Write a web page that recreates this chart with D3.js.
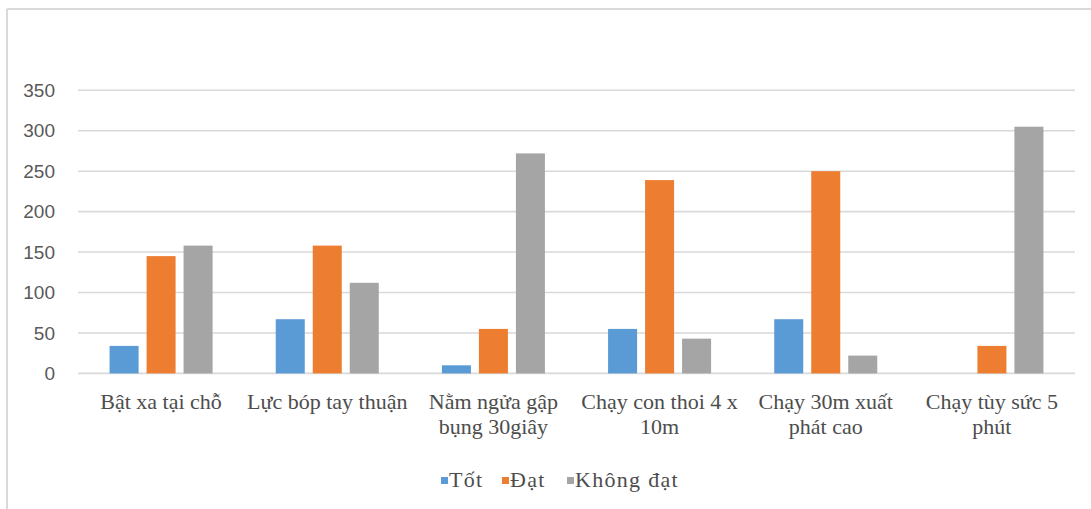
<!DOCTYPE html>
<html>
<head>
<meta charset="utf-8">
<script src="https://cdn.jsdelivr.net/npm/d3@7"></script>
<style>
  html, body { margin: 0; padding: 0; background: #fff; }
  svg { display: block; }
</style>
</head>
<body>
<svg id="chart" width="1091" height="509"></svg>
<script>
// Fitness test results per item
const categories = [
  ["Bật xa tại chỗ"],
  ["Lực bóp tay thuận"],
  ["Nằm ngửa gập", "bụng 30giây"],
  ["Chạy con thoi 4 x", "10m"],
  ["Chạy 30m xuất", "phát cao"],
  ["Chạy tùy sức 5", "phút"]
];
const seriesNames = ["Tốt", "Đạt", "Không đạt"];
const tot      = [34, 67, 10, 55, 67, 0];
const dat      = [145, 158, 55, 239, 250, 34];
const khongDat = [158, 112, 272, 43, 22, 305];
const yTicks = [0, 50, 100, 150, 200, 250, 300, 350];
const colors = ["#5b9bd5", "#ed7d31", "#a5a5a5"];

const seriesValues = [tot, dat, khongDat];
const catKeys = categories.map(c => c.join(" "));

const svg = d3.select("#chart");

// frame lines
svg.append("line").attr("x1", 7).attr("x2", 1091).attr("y1", 9).attr("y2", 9)
  .attr("stroke", "#d9d9d9").attr("stroke-width", 2);
svg.append("line").attr("x1", 7).attr("x2", 7).attr("y1", 9).attr("y2", 509)
  .attr("stroke", "#d9d9d9").attr("stroke-width", 2);

const plotLeft = 78, plotRight = 1075, plotTop = 90.3, plotBottom = 373.4;

const y = d3.scaleLinear().domain([0, 350]).range([plotBottom, plotTop]);
const x0 = d3.scaleBand().domain(catKeys).range([plotLeft, plotRight])
  .paddingInner(0.38).paddingOuter(0.19);
const x1 = d3.scaleBand().domain(seriesNames).range([0, x0.bandwidth()])
  .paddingInner(0.216);

// gridlines
svg.append("g").selectAll("line").data(yTicks).join("line")
  .attr("x1", plotLeft).attr("x2", plotRight)
  .attr("y1", d => y(d)).attr("y2", d => y(d))
  .attr("stroke", "#d9d9d9").attr("stroke-width", 1.6);

// y axis labels
const yAxis = d3.axisLeft(y).tickValues(yTicks).tickSize(0).tickPadding(0);
const yg = svg.append("g").attr("transform", `translate(55,0)`).call(yAxis);
yg.select(".domain").remove();
yg.selectAll("text")
  .attr("font-family", "'Liberation Sans', Arial, sans-serif")
  .attr("font-size", 19).attr("fill", "#595959");

// bars
const groups = svg.append("g").selectAll("g").data(catKeys).join("g")
  .attr("transform", d => `translate(${x0(d)},0)`);
groups.selectAll("rect")
  .data((d, i) => seriesNames.map((s, j) => ({ s, v: seriesValues[j][i], c: colors[j] })))
  .join("rect")
  .attr("x", d => x1(d.s))
  .attr("width", x1.bandwidth())
  .attr("y", d => y(d.v))
  .attr("height", d => y(0) - y(d.v))
  .attr("fill", d => d.c);

// category labels
const labelFont = "'Liberation Serif', 'Times New Roman', serif";
const cl = svg.append("g").selectAll("text").data(categories).join("text")
  .attr("x", (d, i) => x0(catKeys[i]) + x0.bandwidth() / 2)
  .attr("y", 409)
  .attr("text-anchor", "middle")
  .attr("font-family", labelFont).attr("font-size", 22).attr("fill", "#4d4d4d");
cl.selectAll("tspan").data(d => d).join("tspan")
  .attr("x", function() { return d3.select(this.parentNode).attr("x"); })
  .attr("dy", (d, i) => i === 0 ? 0 : 25)
  .text(d => d);

// legend
const legendX = [441, 502, 567];
const lg = svg.append("g").selectAll("g").data(seriesNames).join("g")
  .attr("transform", (d, i) => `translate(${legendX[i]},0)`);
lg.append("rect").attr("x", 0).attr("y", 477).attr("width", 7).attr("height", 7)
  .attr("fill", (d, i) => colors[i]);
lg.append("text").attr("x", 8).attr("y", 487)
  .attr("font-family", labelFont).attr("font-size", 22).attr("letter-spacing", 1.3)
  .attr("fill", "#4d4d4d")
  .text(d => d);
</script>
</body>
</html>
